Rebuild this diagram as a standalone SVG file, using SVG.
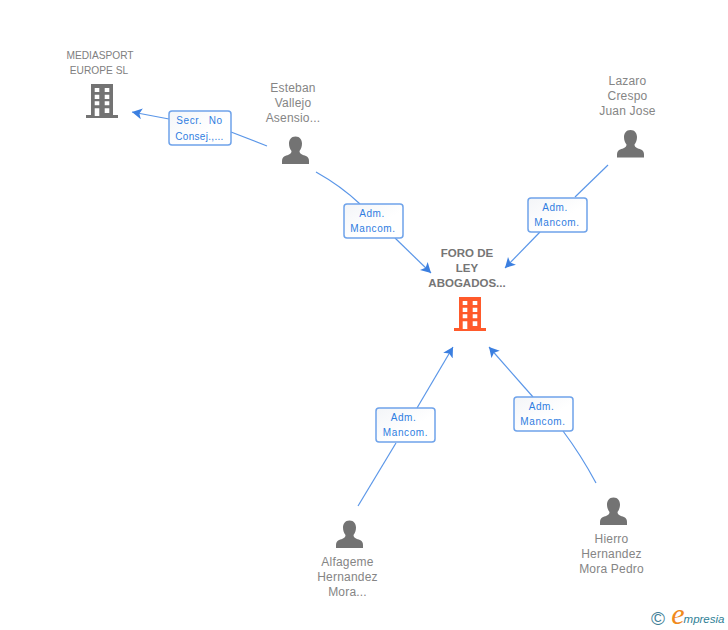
<svg xmlns="http://www.w3.org/2000/svg" width="728" height="630" viewBox="0 0 728 630">
<style>
text{font-family:"Liberation Sans",Arial,sans-serif;text-anchor:middle}
.n{font-size:12px;fill:#858585;letter-spacing:.2px}
.s{font-size:10.200px;fill:#808080}
.b{font-size:11.500px;font-weight:bold;fill:#757575}
.l{font-size:10px;fill:#2f7de1;letter-spacing:.6px}
.e{fill:none;stroke:#5a96e8;stroke-width:1.2}
.box{fill:url(#g);stroke:#6fa3ea;stroke-width:1.500}
.p{fill:#737373}
</style>
<defs>
<marker id="a" markerUnits="userSpaceOnUse" markerWidth="12" markerHeight="12" refX="10" refY="5.500" orient="auto"><path d="M10 5.500L0 0L2.500 5.500L0 11Z" fill="#3b7fe0"/></marker>
<path id="bld" fill-rule="evenodd" d="M-11-32H11V-1H16V2H-16V-1H-11ZM-7.300-28V-24H-2.700V-28ZM2.700-28V-24H7.300V-28ZM-7.300-21.300V-17H-2.700V-21.300ZM2.700-21.300V-17H7.300V-21.300ZM-7.300-14.700V-10.700H-2.700V-14.700ZM2.700-14.700V-10.700H7.300V-14.700ZM-7.300-7.700V0H-2.700V-7.700ZM2.700-7.700V-3H7.300V-7.700Z"/>
<path id="per" d="M0-27.500C-4.500-27.500-6.500-24-6.500-20.500C-6.500-17.500-5.500-15-4-13C-4-11-5-10-7-9.300C-10-8.200-13.500-7.500-13.500-3V0H13.500V-3C13.500-7.500 10-8.200 7-9.300C5-10 4-11 4-13C5.500-15 6.500-17.500 6.500-20.500C6.500-24 4.500-27.500 0-27.500Z"/>
<linearGradient id="g" x1="0" y1="0" x2="1" y2="1"><stop offset="0" stop-color="#f3f5f8"/><stop offset=".6" stop-color="#fff"/></linearGradient>
</defs>
<g id="connectors">
<path class="e" d="M267 146L231 132"/>
<path class="e" d="M169 119L132 112" marker-end="url(#a)"/>
<path class="e" d="M316 172Q341 186 360 204"/>
<path class="e" d="M395 238L431 273" marker-end="url(#a)"/>
<path class="e" d="M608 165L575 197"/>
<path class="e" d="M540 232L505 268" marker-end="url(#a)"/>
<path class="e" d="M358 506L396 443"/>
<path class="e" d="M417 408L453 347" marker-end="url(#a)"/>
<path class="e" d="M596 483Q581 455 563 431"/>
<path class="e" d="M533 397L489 347" marker-end="url(#a)"/>
</g>
<g id="node-mediasport">
<text class="s" x="100" y="59">MEDIASPORT</text><text class="s" x="99" y="74">EUROPE SL</text>
<use href="#bld" x="102" y="116" fill="#737373"/>
</g>
<g id="node-esteban">
<text class="n" x="293" y="92">Esteban</text><text class="n" x="293" y="107">Vallejo</text><text class="n" x="293" y="122">Asensio...</text>
<use href="#per" class="p" x="295.500" y="164"/>
</g>
<g id="node-lazaro">
<text class="n" x="627.500" y="85">Lazaro</text><text class="n" x="627.500" y="100">Crespo</text><text class="n" x="627.500" y="115">Juan Jose</text>
<use href="#per" class="p" x="630.500" y="157.500"/>
</g>
<g id="node-foro">
<text class="b" x="467" y="257">FORO DE</text><text class="b" x="467" y="272">LEY</text><text class="b" x="467" y="287">ABOGADOS...</text>
<use href="#bld" x="470" y="329" fill="#ff5a2b"/>
</g>
<g id="node-alfageme">
<use href="#per" class="p" x="349.500" y="548"/>
<text class="n" x="347.500" y="566">Alfageme</text><text class="n" x="347.500" y="581">Hernandez</text><text class="n" x="347.500" y="596">Mora...</text>
</g>
<g id="node-hierro">
<use href="#per" class="p" x="613.500" y="525"/>
<text class="n" x="611.500" y="543">Hierro</text><text class="n" x="611.500" y="558">Hernandez</text><text class="n" x="611.500" y="573">Mora Pedro</text>
</g>
<g id="label-secr"><rect class="box" x="169" y="111" width="62" height="34" rx="3"/><text class="l" x="199.500" y="124" xml:space="preserve">Secr.  No</text><text class="l" x="199.500" y="140" style="letter-spacing:.3px">Consej.,...</text></g>
<g id="label-adm1"><rect class="box" x="344" y="204" width="59" height="34" rx="3"/><text class="l" x="372" y="217">Adm.</text><text class="l" x="373" y="232">Mancom.</text></g>
<g id="label-adm2"><rect class="box" x="528" y="198" width="59" height="34" rx="3"/><text class="l" x="555" y="211">Adm.</text><text class="l" x="557" y="226">Mancom.</text></g>
<g id="label-adm3"><rect class="box" x="376" y="408" width="59" height="34" rx="3"/><text class="l" x="403.500" y="421">Adm.</text><text class="l" x="405.500" y="436">Mancom.</text></g>
<g id="label-adm4"><rect class="box" x="514" y="397" width="59" height="34" rx="3"/><text class="l" x="541.500" y="410">Adm.</text><text class="l" x="543" y="425">Mancom.</text></g>
<g id="logo">
<text x="658" y="625" style="font-size:19px;fill:#3f7f98">©</text>
<text x="678" y="624" style="font-size:30px;fill:#f08a1d;font-style:italic;font-family:'Liberation Serif',serif">e</text>
<text x="704" y="623" style="font-size:11.500px;fill:#2f7f96;font-style:italic">mpresia</text>
</g>
</svg>
